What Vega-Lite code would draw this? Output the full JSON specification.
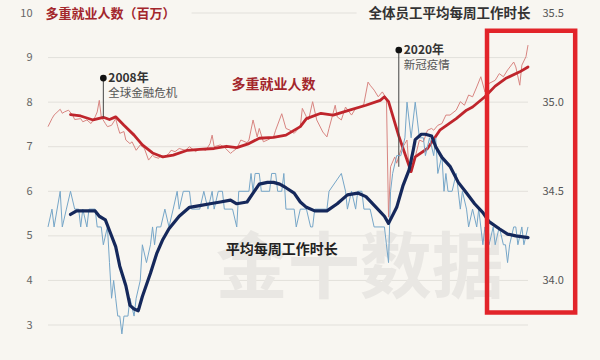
{
"$schema": "https://vega.github.io/schema/vega-lite/v6.json",
"width": 480, "height": 312,
"autosize": "none",
"padding": {"left": 48, "top": 13, "right": 72, "bottom": 35},
"background": "#f8f6f1",
"config": {"view": {"stroke": null}, "font": "Noto Sans CJK SC", "text": {"font": "Noto Sans CJK SC"}},
"datasets": {
"red": [
{"date":"2006-01","v":7.45},{"date":"2006-03","v":7.63},{"date":"2006-04","v":7.71},{"date":"2006-07","v":7.84},{"date":"2006-08","v":7.75},{"date":"2006-09","v":7.78},{"date":"2006-11","v":7.82},{"date":"2007-01","v":7.71},{"date":"2007-02","v":7.61},{"date":"2007-05","v":7.63},{"date":"2007-06","v":7.56},{"date":"2007-08","v":7.60},{"date":"2007-10","v":7.52},{"date":"2007-12","v":7.67},{"date":"2008-01","v":7.78},{"date":"2008-02","v":8.04},{"date":"2008-03","v":7.67},{"date":"2008-05","v":7.52},{"date":"2008-06","v":7.45},{"date":"2008-08","v":7.48},{"date":"2008-10","v":7.63},{"date":"2008-11","v":7.45},{"date":"2008-12","v":7.30},{"date":"2009-02","v":7.34},{"date":"2009-03","v":7.15},{"date":"2009-05","v":7.07},{"date":"2009-06","v":7.11},{"date":"2009-08","v":6.92},{"date":"2009-10","v":7.04},{"date":"2009-12","v":6.96},{"date":"2010-02","v":6.70},{"date":"2010-04","v":6.81},{"date":"2010-05","v":6.77},{"date":"2010-07","v":6.74},{"date":"2010-08","v":6.81},{"date":"2010-10","v":6.77},{"date":"2010-12","v":6.85},{"date":"2011-01","v":6.92},{"date":"2011-03","v":6.89},{"date":"2011-05","v":6.96},{"date":"2011-08","v":6.92},{"date":"2011-10","v":7.00},{"date":"2012-01","v":6.89},{"date":"2012-03","v":6.96},{"date":"2012-06","v":6.92},{"date":"2012-08","v":7.07},{"date":"2012-09","v":7.26},{"date":"2012-10","v":7.00},{"date":"2013-01","v":7.04},{"date":"2013-03","v":6.99},{"date":"2013-06","v":6.85},{"date":"2013-07","v":6.89},{"date":"2013-09","v":6.96},{"date":"2013-11","v":7.15},{"date":"2014-02","v":7.09},{"date":"2014-03","v":7.15},{"date":"2014-05","v":7.60},{"date":"2014-07","v":7.22},{"date":"2014-08","v":7.41},{"date":"2014-10","v":7.11},{"date":"2014-12","v":7.15},{"date":"2015-03","v":7.22},{"date":"2015-04","v":7.37},{"date":"2015-07","v":7.74},{"date":"2015-09","v":7.41},{"date":"2015-11","v":7.37},{"date":"2016-01","v":7.30},{"date":"2016-04","v":7.45},{"date":"2016-05","v":7.86},{"date":"2016-07","v":7.67},{"date":"2016-08","v":7.60},{"date":"2016-10","v":8.01},{"date":"2016-12","v":7.60},{"date":"2017-03","v":7.33},{"date":"2017-05","v":7.22},{"date":"2017-06","v":7.41},{"date":"2017-09","v":7.93},{"date":"2017-10","v":7.67},{"date":"2017-12","v":7.60},{"date":"2018-02","v":7.89},{"date":"2018-05","v":7.71},{"date":"2018-07","v":7.86},{"date":"2018-10","v":7.89},{"date":"2018-11","v":7.97},{"date":"2019-01","v":8.45},{"date":"2019-02","v":8.38},{"date":"2019-04","v":8.27},{"date":"2019-06","v":8.12},{"date":"2019-08","v":8.23},{"date":"2019-10","v":8.08},{"date":"2019-11","v":5.42},{"date":"2019-12","v":6.55},{"date":"2020-02","v":6.77},{"date":"2020-03","v":6.63},{"date":"2020-05","v":6.92},{"date":"2020-07","v":7.07},{"date":"2020-08","v":7.15},{"date":"2020-09","v":6.48},{"date":"2020-10","v":6.63},{"date":"2020-12","v":6.77},{"date":"2021-02","v":7.15},{"date":"2021-04","v":7.11},{"date":"2021-06","v":7.37},{"date":"2021-08","v":7.41},{"date":"2021-09","v":7.37},{"date":"2021-11","v":7.48},{"date":"2022-01","v":7.52},{"date":"2022-03","v":7.71},{"date":"2022-05","v":7.71},{"date":"2022-08","v":7.82},{"date":"2022-10","v":8.01},{"date":"2022-12","v":7.93},{"date":"2023-02","v":8.16},{"date":"2023-04","v":8.12},{"date":"2023-06","v":8.34},{"date":"2023-08","v":8.57},{"date":"2023-10","v":8.23},{"date":"2023-12","v":8.42},{"date":"2024-03","v":8.49},{"date":"2024-05","v":8.64},{"date":"2024-07","v":8.57},{"date":"2024-09","v":8.72},{"date":"2024-12","v":8.90},{"date":"2025-01","v":8.79},{"date":"2025-03","v":8.38},{"date":"2025-04","v":8.83},{"date":"2025-06","v":9.02},{"date":"2025-07","v":9.28}
],
"redma": [
{"date":"2006-12","v":7.72},{"date":"2007-05","v":7.69},{"date":"2007-11","v":7.60},{"date":"2008-04","v":7.66},{"date":"2008-07","v":7.61},{"date":"2008-10","v":7.67},{"date":"2009-02","v":7.48},{"date":"2009-07","v":7.26},{"date":"2009-11","v":7.04},{"date":"2010-04","v":6.86},{"date":"2010-09","v":6.77},{"date":"2011-02","v":6.81},{"date":"2011-09","v":6.92},{"date":"2012-03","v":6.94},{"date":"2012-10","v":6.96},{"date":"2013-04","v":7.01},{"date":"2013-09","v":6.98},{"date":"2014-03","v":7.07},{"date":"2014-08","v":7.19},{"date":"2015-03","v":7.21},{"date":"2015-09","v":7.26},{"date":"2016-04","v":7.45},{"date":"2016-07","v":7.63},{"date":"2017-02","v":7.75},{"date":"2017-08","v":7.71},{"date":"2018-04","v":7.82},{"date":"2018-12","v":7.93},{"date":"2019-07","v":8.04},{"date":"2019-09","v":8.12},{"date":"2019-11","v":8.01},{"date":"2020-04","v":7.24},{"date":"2020-10","v":6.44},{"date":"2020-12","v":6.77},{"date":"2021-06","v":6.96},{"date":"2021-12","v":7.37},{"date":"2022-08","v":7.63},{"date":"2023-01","v":7.82},{"date":"2023-04","v":7.89},{"date":"2023-10","v":8.12},{"date":"2024-03","v":8.36},{"date":"2024-08","v":8.53},{"date":"2025-03","v":8.68},{"date":"2025-07","v":8.79}
],
"blue": [
{"date":"2006-01","h":34.3},{"date":"2006-03","h":34.4},{"date":"2006-04","h":34.3},{"date":"2006-07","h":34.5},{"date":"2006-08","h":34.3},{"date":"2006-10","h":34.4},{"date":"2006-12","h":34.5},{"date":"2007-02","h":34.4},{"date":"2007-04","h":34.4},{"date":"2007-05","h":34.3},{"date":"2007-06","h":34.4},{"date":"2007-08","h":34.3},{"date":"2007-09","h":34.4},{"date":"2007-12","h":34.4},{"date":"2008-01","h":34.3},{"date":"2008-03","h":34.3},{"date":"2008-04","h":34.2},{"date":"2008-06","h":34.3},{"date":"2008-07","h":34.1},{"date":"2008-08","h":33.9},{"date":"2008-09","h":34.0},{"date":"2008-10","h":33.9},{"date":"2008-11","h":33.8},{"date":"2008-12","h":33.8},{"date":"2009-01","h":33.7},{"date":"2009-02","h":33.8},{"date":"2009-04","h":33.8},{"date":"2009-05","h":33.9},{"date":"2009-07","h":33.8},{"date":"2009-08","h":33.9},{"date":"2009-10","h":34.0},{"date":"2009-11","h":34.2},{"date":"2010-01","h":34.1},{"date":"2010-03","h":34.2},{"date":"2010-04","h":34.3},{"date":"2010-05","h":34.2},{"date":"2010-06","h":34.3},{"date":"2010-08","h":34.3},{"date":"2010-10","h":34.4},{"date":"2010-12","h":34.3},{"date":"2011-02","h":34.4},{"date":"2011-04","h":34.5},{"date":"2011-05","h":34.4},{"date":"2011-07","h":34.5},{"date":"2011-10","h":34.5},{"date":"2011-11","h":34.4},{"date":"2012-03","h":34.4},{"date":"2012-05","h":34.5},{"date":"2012-07","h":34.4},{"date":"2012-09","h":34.5},{"date":"2012-10","h":34.4},{"date":"2012-12","h":34.5},{"date":"2013-02","h":34.5},{"date":"2013-03","h":34.4},{"date":"2013-07","h":34.4},{"date":"2013-09","h":34.3},{"date":"2013-10","h":34.5},{"date":"2014-03","h":34.5},{"date":"2014-04","h":34.6},{"date":"2014-05","h":34.5},{"date":"2014-06","h":34.6},{"date":"2014-08","h":34.6},{"date":"2014-09","h":34.5},{"date":"2015-01","h":34.5},{"date":"2015-02","h":34.6},{"date":"2015-04","h":34.6},{"date":"2015-05","h":34.5},{"date":"2015-07","h":34.5},{"date":"2015-08","h":34.6},{"date":"2015-09","h":34.4},{"date":"2016-01","h":34.4},{"date":"2016-02","h":34.3},{"date":"2016-04","h":34.4},{"date":"2016-07","h":34.4},{"date":"2016-09","h":34.3},{"date":"2016-10","h":34.3},{"date":"2016-11","h":34.4},{"date":"2017-05","h":34.4},{"date":"2017-06","h":34.5},{"date":"2017-12","h":34.6},{"date":"2018-02","h":34.5},{"date":"2018-03","h":34.4},{"date":"2018-05","h":34.5},{"date":"2018-07","h":34.4},{"date":"2018-08","h":34.5},{"date":"2018-10","h":34.5},{"date":"2018-11","h":34.4},{"date":"2019-02","h":34.4},{"date":"2019-04","h":34.3},{"date":"2019-09","h":34.3},{"date":"2019-10","h":34.2},{"date":"2019-11","h":34.1},{"date":"2019-12","h":34.5},{"date":"2020-01","h":34.6},{"date":"2020-03","h":34.7},{"date":"2020-05","h":34.7},{"date":"2020-07","h":34.8},{"date":"2020-08","h":35.0},{"date":"2020-10","h":34.8},{"date":"2020-12","h":35.0},{"date":"2021-01","h":34.9},{"date":"2021-02","h":34.8},{"date":"2021-04","h":34.8},{"date":"2021-05","h":34.7},{"date":"2021-07","h":34.8},{"date":"2021-09","h":34.7},{"date":"2021-10","h":34.8},{"date":"2021-11","h":34.6},{"date":"2022-01","h":34.7},{"date":"2022-02","h":34.5},{"date":"2022-03","h":34.6},{"date":"2022-04","h":34.5},{"date":"2022-06","h":34.5},{"date":"2022-08","h":34.6},{"date":"2022-10","h":34.4},{"date":"2022-11","h":34.5},{"date":"2023-01","h":34.4},{"date":"2023-02","h":34.3},{"date":"2023-04","h":34.4},{"date":"2023-06","h":34.3},{"date":"2023-07","h":34.4},{"date":"2023-09","h":34.2},{"date":"2023-10","h":34.3},{"date":"2023-12","h":34.2},{"date":"2024-02","h":34.3},{"date":"2024-03","h":34.2},{"date":"2024-05","h":34.3},{"date":"2024-07","h":34.2},{"date":"2024-08","h":34.2},{"date":"2024-09","h":34.1},{"date":"2024-10","h":34.2},{"date":"2024-12","h":34.3},{"date":"2025-01","h":34.3},{"date":"2025-02","h":34.2},{"date":"2025-04","h":34.3},{"date":"2025-05","h":34.2},{"date":"2025-07","h":34.3}
],
"bluema": [
{"date":"2006-12","h":34.37},{"date":"2007-03","h":34.39},{"date":"2007-08","h":34.39},{"date":"2007-12","h":34.39},{"date":"2008-02","h":34.36},{"date":"2008-05","h":34.34},{"date":"2008-07","h":34.28},{"date":"2008-10","h":34.19},{"date":"2008-12","h":34.08},{"date":"2009-03","h":33.97},{"date":"2009-05","h":33.86},{"date":"2009-07","h":33.84},{"date":"2009-09","h":33.83},{"date":"2009-11","h":33.91},{"date":"2010-03","h":34.04},{"date":"2010-06","h":34.15},{"date":"2010-09","h":34.23},{"date":"2010-12","h":34.29},{"date":"2011-05","h":34.36},{"date":"2011-10","h":34.41},{"date":"2012-03","h":34.42},{"date":"2012-08","h":34.43},{"date":"2013-01","h":34.44},{"date":"2013-06","h":34.45},{"date":"2013-09","h":34.43},{"date":"2014-02","h":34.44},{"date":"2014-05","h":34.49},{"date":"2014-08","h":34.54},{"date":"2014-12","h":34.55},{"date":"2015-03","h":34.55},{"date":"2015-06","h":34.54},{"date":"2015-09","h":34.52},{"date":"2016-01","h":34.49},{"date":"2016-04","h":34.44},{"date":"2016-07","h":34.41},{"date":"2016-11","h":34.39},{"date":"2017-05","h":34.39},{"date":"2017-10","h":34.43},{"date":"2018-03","h":34.48},{"date":"2018-08","h":34.49},{"date":"2018-12","h":34.47},{"date":"2019-05","h":34.41},{"date":"2019-09","h":34.36},{"date":"2019-11","h":34.32},{"date":"2020-03","h":34.41},{"date":"2020-06","h":34.53},{"date":"2020-09","h":34.62},{"date":"2020-11","h":34.73},{"date":"2020-12","h":34.79},{"date":"2021-03","h":34.82},{"date":"2021-05","h":34.82},{"date":"2021-08","h":34.81},{"date":"2021-10","h":34.75},{"date":"2022-01","h":34.69},{"date":"2022-05","h":34.64},{"date":"2022-09","h":34.55},{"date":"2023-01","h":34.49},{"date":"2023-05","h":34.43},{"date":"2023-09","h":34.38},{"date":"2023-12","h":34.33},{"date":"2024-05","h":34.29},{"date":"2024-09","h":34.26},{"date":"2025-01","h":34.25},{"date":"2025-07","h":34.24}
]
},
"layer": [
{"data": {"values": [{"g":3},{"g":4},{"g":5},{"g":6},{"g":7},{"g":8},{"g":9}]},
 "mark": {"type": "rule", "color": "#e2e0db", "strokeWidth": 1},
 "encoding": {"y": {"field": "g", "type": "quantitative", "scale": {"domain": [3, 10]}, "axis": null}}},
{"data": {"values": [{"g":10,"from":"2011-11-01","to":"2018-07-15"}]},
 "mark": {"type": "rule", "color": "#e2e0db", "strokeWidth": 1},
 "encoding": {"y": {"field": "g", "type": "quantitative", "scale": {"domain": [3, 10]}, "axis": null},
   "x": {"field": "from", "type": "temporal", "scale": {"domain": [{"year":2006,"month":1,"date":1},{"year":2025,"month":7,"date":1}]}, "axis": null},
   "x2": {"field": "to"}}},
{"data": {"values": [{"t":"金十数据","date":"2018-09","v":4.23}]},
 "mark": {"type": "text", "fontSize": 72, "fontWeight": "bold", "color": "#e9e7e3", "align": "center", "baseline": "middle"},
 "encoding": {"x": {"field": "date", "type": "temporal", "scale": {"domain": [{"year":2006,"month":1,"date":1},{"year":2025,"month":7,"date":1}]}, "axis": null},
   "y": {"field": "v", "type": "quantitative", "scale": {"domain": [3, 10]}, "axis": null}, "text": {"field": "t"}}},
{"data": {"name": "red"},
 "mark": {"type": "line", "color": "#d88581", "strokeWidth": 1, "strokeJoin": "round"},
 "encoding": {"x": {"field": "date", "type": "temporal", "scale": {"domain": [{"year":2006,"month":1,"date":1},{"year":2025,"month":7,"date":1}]}, "axis": null},
   "y": {"field": "v", "type": "quantitative", "scale": {"domain": [3, 10]},
     "axis": {"orient": "left", "values": [3,4,5,6,7,8,9,10], "title": "多重就业人数（百万）", "titleAngle": 0, "titleAlign": "left", "titleBaseline": "middle", "titleX": -3, "titleY": 0, "titleColor": "#a3262c", "titleFontSize": 13, "titleFontWeight": "bold", "labelPadding": 16, "labelFontSize": 11, "labelColor": "#666666", "ticks": false, "domain": false, "grid": false}}}},
{"data": {"name": "redma"},
 "mark": {"type": "line", "color": "#bf252c", "strokeWidth": 2.8, "strokeJoin": "round", "strokeCap": "round"},
 "encoding": {"x": {"field": "date", "type": "temporal", "scale": {"domain": [{"year":2006,"month":1,"date":1},{"year":2025,"month":7,"date":1}]}, "axis": null},
   "y": {"field": "v", "type": "quantitative", "scale": {"domain": [3, 10]}, "axis": null}}},
{"data": {"values": [{"date":"2008-04","top":8.54,"bottom":7.66},{"date":"2020-04","top":9.17,"bottom":6.55}]},
 "mark": {"type": "rule", "color": "#444444", "strokeWidth": 1},
 "encoding": {"x": {"field": "date", "type": "temporal", "scale": {"domain": [{"year":2006,"month":1,"date":1},{"year":2025,"month":7,"date":1}]}, "axis": null},
   "y": {"field": "top", "type": "quantitative", "scale": {"domain": [3, 10]}, "axis": null}, "y2": {"field": "bottom"}}},
{"data": {"values": [{"date":"2008-04","top":8.54},{"date":"2020-04","top":9.17}]},
 "mark": {"type": "point", "filled": true, "color": "#111111", "size": 45, "opacity": 1},
 "encoding": {"x": {"field": "date", "type": "temporal", "scale": {"domain": [{"year":2006,"month":1,"date":1},{"year":2025,"month":7,"date":1}]}, "axis": null},
   "y": {"field": "top", "type": "quantitative", "scale": {"domain": [3, 10]}, "axis": null}}},
{"data": {"values": [{"date":"2008-04","top":8.54,"year":"2008年"},{"date":"2020-04","top":9.17,"year":"2020年"}]},
 "mark": {"type": "text", "align": "left", "baseline": "middle", "dx": 5, "fontSize": 12, "fontWeight": "bold", "color": "#333333"},
 "encoding": {"x": {"field": "date", "type": "temporal", "scale": {"domain": [{"year":2006,"month":1,"date":1},{"year":2025,"month":7,"date":1}]}, "axis": null},
   "y": {"field": "top", "type": "quantitative", "scale": {"domain": [3, 10]}, "axis": null}, "text": {"field": "year"}}},
{"data": {"values": [{"date":"2008-04","top":8.54,"event":"全球金融危机"},{"date":"2020-04","top":9.17,"event":"新冠疫情"}]},
 "mark": {"type": "text", "align": "left", "baseline": "middle", "dx": 5, "dy": 16, "fontSize": 11.5, "color": "#555555"},
 "encoding": {"x": {"field": "date", "type": "temporal", "scale": {"domain": [{"year":2006,"month":1,"date":1},{"year":2025,"month":7,"date":1}]}, "axis": null},
   "y": {"field": "top", "type": "quantitative", "scale": {"domain": [3, 10]}, "axis": null}, "text": {"field": "event"}}},
{"data": {"values": [{"t":"多重就业人数","date":"2015-03","v":8.38,"c":"red"},{"t":"平均每周工作时长","date":"2015-07","v":4.68,"c":"blue"}]},
 "mark": {"type": "text", "fontSize": 14, "fontWeight": "bold", "align": "center", "baseline": "middle"},
 "encoding": {"x": {"field": "date", "type": "temporal", "scale": {"domain": [{"year":2006,"month":1,"date":1},{"year":2025,"month":7,"date":1}]}, "axis": null},
   "y": {"field": "v", "type": "quantitative", "scale": {"domain": [3, 10]}, "axis": null},
   "text": {"field": "t"},
   "color": {"field": "c", "type": "nominal", "scale": {"domain": ["red","blue"], "range": ["#a3262c","#222222"]}, "legend": null}}},
{"data": {"name": "blue"},
 "mark": {"type": "line", "color": "#76a6c8", "strokeWidth": 1, "strokeJoin": "round"},
 "encoding": {"x": {"field": "date", "type": "temporal", "scale": {"domain": [{"year":2006,"month":1,"date":1},{"year":2025,"month":7,"date":1}]}, "axis": null},
   "y": {"field": "h", "type": "quantitative", "scale": {"domain": [33.75, 35.5]},
     "axis": {"orient": "right", "values": [34.0, 34.5, 35.0, 35.5], "format": ".1f", "title": "全体员工平均每周工作时长", "titleAngle": 0, "titleAlign": "right", "titleBaseline": "middle", "titleX": 2, "titleY": 0, "titleColor": "#333333", "titleFontSize": 13.5, "titleFontWeight": "bold", "labelPadding": 14, "labelFontSize": 11, "labelColor": "#555555", "ticks": false, "domain": false, "grid": false}}}},
{"data": {"name": "bluema"},
 "mark": {"type": "line", "color": "#15285b", "strokeWidth": 3.2, "strokeJoin": "round", "strokeCap": "round"},
 "encoding": {"x": {"field": "date", "type": "temporal", "scale": {"domain": [{"year":2006,"month":1,"date":1},{"year":2025,"month":7,"date":1}]}, "axis": null},
   "y": {"field": "h", "type": "quantitative", "scale": {"domain": [33.75, 35.5]}, "axis": null}}},
{"data": {"values": [{"start":"2023-11-01","end":"2027-06-01","top":35.4,"bottom":33.82}]},
 "mark": {"type": "rect", "filled": false, "color": "#e2242a", "strokeWidth": 4.5},
 "encoding": {"x": {"field": "start", "type": "temporal", "scale": {"domain": [{"year":2006,"month":1,"date":1},{"year":2025,"month":7,"date":1}]}, "axis": null},
   "x2": {"field": "end"},
   "y": {"field": "top", "type": "quantitative", "scale": {"domain": [33.75, 35.5]}, "axis": null},
   "y2": {"field": "bottom"}}}
],
"resolve": {"scale": {"y": "independent"}, "axis": {"y": "independent"}}
}
